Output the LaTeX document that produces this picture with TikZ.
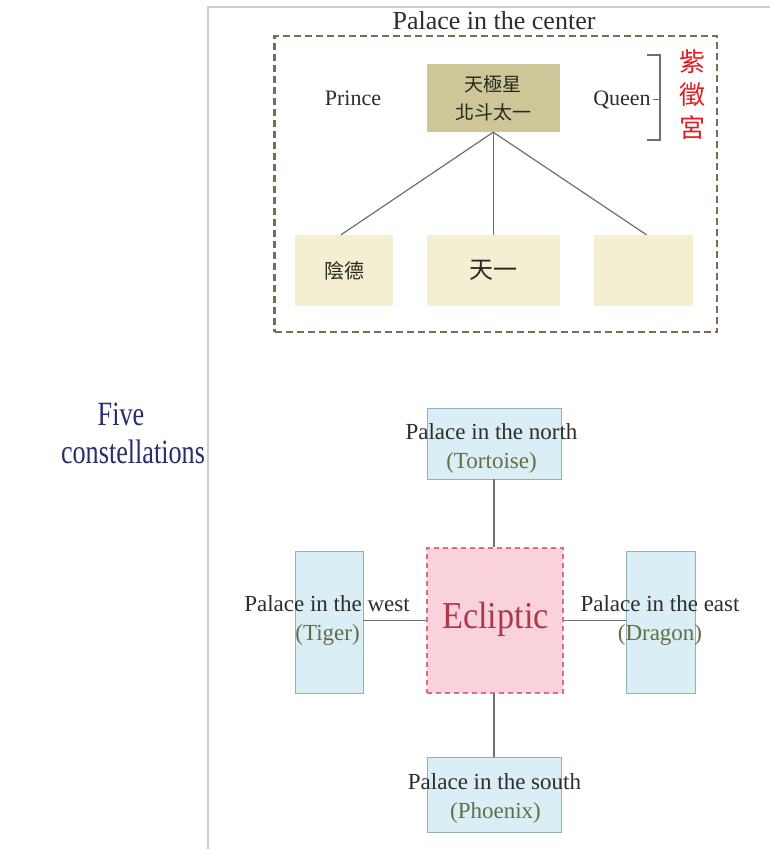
\documentclass[tikz,border=0pt]{standalone}
\usepackage{fontspec}
\usepackage{graphicx}
\setmainfont{Liberation Serif}
\newfontfamily\cjk{Noto Sans CJK TC}
\definecolor{framec}{RGB}{205,205,205}
\definecolor{dashc}{RGB}{125,108,82}
\definecolor{khakic}{RGB}{204,198,152}
\definecolor{beigec}{RGB}{244,239,211}
\definecolor{connc}{RGB}{110,110,110}
\definecolor{bluec}{RGB}{217,238,245}
\definecolor{bluel}{RGB}{150,175,185}
\definecolor{eclfill}{RGB}{250,210,220}
\definecolor{ecldash}{RGB}{215,110,135}
\definecolor{eclc}{RGB}{175,55,70}
\definecolor{textc}{RGB}{45,45,45}
\definecolor{animc}{RGB}{100,110,70}
\definecolor{navyc}{RGB}{40,45,110}
\definecolor{redc}{RGB}{225,30,35}
\definecolor{cjktext}{RGB}{40,40,30}
\tikzset{
  frameln/.style={draw=framec, line width=1.6pt},
  dashbox/.style={draw=dashc, line width=2.2pt, dash pattern=on 7pt off 4pt, inner sep=0pt},
  beige/.style={fill=beigec, draw=none, inner sep=0pt, text=cjktext},
  bluebox/.style={fill=bluec, draw=bluel, line width=0.8pt, inner sep=0pt},
  eclbox/.style={fill=eclfill, draw=ecldash, line width=1.4pt, dash pattern=on 5pt off 4pt, inner sep=0pt},
  conn/.style={draw=connc, line width=1.2pt},
  brk/.style={draw=connc, line width=1.2pt},
  lbl/.style={font=\fontsize{23}{29}\selectfont, text=textc, inner sep=0pt, anchor=base},
  anim/.style={font=\fontsize{23}{29}\selectfont, text=animc, inner sep=0pt, anchor=base},
}
\begin{document}
\begin{tikzpicture}[x=1pt,y=-1pt]
\useasboundingbox (0,0) rectangle (770,849);
% frame
\coordinate (ftl) at (208,7);
\coordinate (ftr) at (770,7);
\coordinate (fbl) at (208,849);
\draw[frameln] (ftr) -- (ftl) -- (fbl);

% ---------- palace in the center ----------
\node[dashbox, minimum width=442.5pt, minimum height=296pt] (cbox) at (495.75,184) {};
\node[lbl, font=\fontsize{26}{30}\selectfont] (ctitle) at (494,29) {Palace in the center};

\node[fill=khakic, inner sep=0pt, minimum width=133.5pt, minimum height=68pt, align=center,
      text=cjktext, font=\cjk\fontsize{19}{28}\selectfont] (polaris) at (493.25,98) {天極星\\北斗太一};
\node[lbl, font=\fontsize{22}{29}\selectfont] (prince) at (353,105) {Prince};
\node[lbl, font=\fontsize{22}{29}\selectfont] (queen) at (622,105) {Queen};

\coordinate (bt) at (660,55);
\coordinate (bb) at (660,140);
\coordinate (btl) at (647,55);
\coordinate (bbl) at (647,140);
\draw[brk] (btl) -- (bt) -- (bb) -- (bbl);
\draw[brk] ([xshift=2pt]queen.east) -- (queen.east -| bt);
\node[font=\cjk\fontsize{26}{33}\selectfont, text=redc, align=center, inner sep=0pt] (zwg) at (692,95) {紫\\徵\\宮};

\node[beige, minimum width=98pt, minimum height=71pt, font=\cjk\fontsize{20}{24}\selectfont] (yinde) at (344,270.5) {陰德};
\node[beige, minimum width=133.5pt, minimum height=71pt, font=\cjk\fontsize{24}{28}\selectfont] (tianyi) at (493.25,270.5) {天一};
\node[beige, minimum width=99pt, minimum height=71pt] (third) at (643.5,270.5) {};

\draw[conn] (polaris.south) -- ([xshift=-3pt]yinde.north);
\draw[conn] (polaris.south) -- (tianyi.north);
\draw[conn] (polaris.south) -- ([xshift=3pt]third.north);

% ---------- five constellations ----------
\node[font=\fontsize{34}{38}\selectfont, text=navyc, inner sep=0pt, anchor=base] (five) at (121,425) {\scalebox{0.77}[1]{Five}};
\node[font=\fontsize{34}{38}\selectfont, text=navyc, inner sep=0pt, anchor=base] (constl) at (133,463) {\scalebox{0.77}[1]{constellations}};

\node[bluebox, minimum width=134pt, minimum height=71pt] (north) at (494,443.5) {};
\node[eclbox, minimum width=136pt, minimum height=145pt] (ecl) at (495,620.5) {};
\node[bluebox, minimum width=68pt, minimum height=142pt] (west) at (329,622) {};
\node[bluebox, minimum width=68.5pt, minimum height=142pt] (east) at (660.75,622) {};
\node[bluebox, minimum width=134pt, minimum height=75pt] (south) at (494,794.5) {};

\draw[conn] (north.south) -- (north.south |- ecl.north);
\draw[conn] (south.north |- ecl.south) -- (south.north);
\draw[conn] (west.east |- ecl.west) -- (ecl.west);
\draw[conn] (ecl.east) -- (east.west |- ecl.east);

\node[font=\fontsize{38}{40}\selectfont, text=eclc, inner sep=0pt, anchor=base] (ecltxt) at (495.5,628) {\scalebox{0.9}[1]{Ecliptic}};

\node[lbl] (nl1) at (491.5,439) {Palace in the north};
\node[anim] (nl2) at (491.5,468) {(Tortoise)};
\node[lbl] (wl1) at (327,611) {Palace in the west};
\node[anim] (wl2) at (327.5,640) {(Tiger)};
\node[lbl] (el1) at (660,611) {Palace in the east};
\node[anim] (el2) at (660,640) {(Dragon)};
\node[lbl] (sl1) at (494.5,789) {Palace in the south};
\node[anim] (sl2) at (495.5,818) {(Phoenix)};
\end{tikzpicture}
\end{document}
